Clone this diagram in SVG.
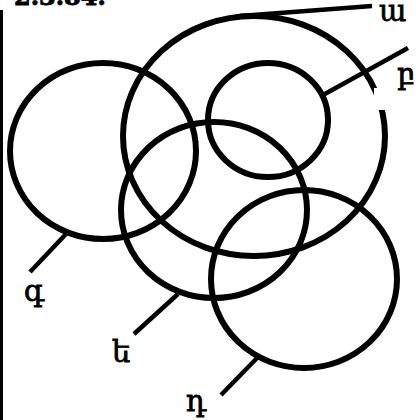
<svg xmlns="http://www.w3.org/2000/svg" width="418" height="420" viewBox="0 0 418 420">
<style>
.c{fill:none;stroke:#000;stroke-width:6}
.l{stroke:#000;stroke-width:4.5;fill:none}
.t{font-family:"DejaVu Serif","DejaVu Sans",serif;font-size:29px;fill:#000;stroke:#000;stroke-width:0.8}
</style>
<rect width="418" height="420" fill="#fff"/>
<line x1="1.5" y1="10" x2="1.5" y2="420" stroke="#000" stroke-width="3"/>
<text x="14" y="5" class="t" style="font-size:24px;font-weight:bold">2.3.84.</text>
<g id="a"><ellipse class="c" cx="254" cy="136" rx="131" ry="120"/><rect x="374" y="88" width="14" height="22" fill="#fff"/></g>
<g id="b"><ellipse class="c" cx="268" cy="120" rx="60" ry="57"/></g>
<g id="g"><ellipse class="c" cx="103" cy="151" rx="93" ry="88"/></g>
<g id="e"><ellipse class="c" cx="214" cy="210" rx="93" ry="88"/></g>
<g id="d"><ellipse class="c" cx="304" cy="279" rx="93" ry="89"/></g>
<g id="connectors">
<line class="l" x1="240" y1="16" x2="372" y2="6"/>
<line class="l" x1="323" y1="95" x2="408" y2="48"/>
<line class="l" x1="66" y1="234" x2="30" y2="272"/>
<line class="l" x1="178" y1="294" x2="134" y2="334"/>
<line class="l" x1="258" y1="357" x2="221" y2="395"/>
</g>
<text class="t" x="379" y="21">ա</text>
<text class="t" x="397" y="84">բ</text>
<text class="t" x="24" y="301">գ</text>
<text class="t" x="112" y="362">ե</text>
<text class="t" x="186" y="411">դ</text>
</svg>
